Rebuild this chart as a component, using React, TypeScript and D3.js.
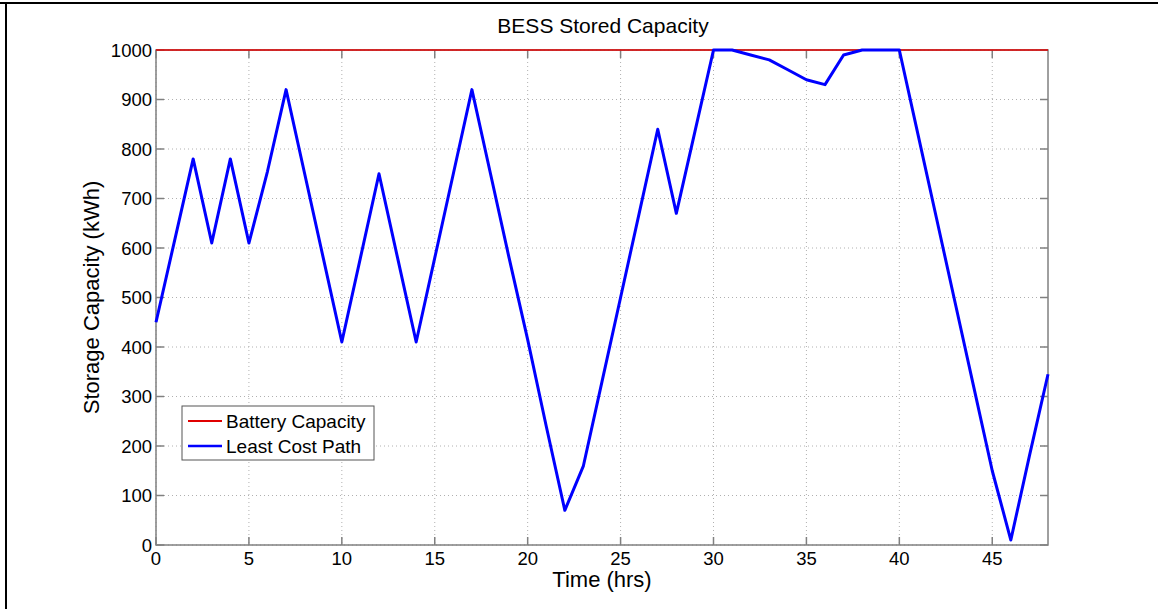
import React from "react";
import * as d3 from "d3";

const hours = d3.range(0, 49);
const leastCostPath = [
  450, 615, 780, 610, 780, 610, 755, 920, 750, 580,
  410, 580, 750, 580, 410, 580, 750, 920, 750, 580,
  415, 240, 70, 160, 330, 500, 670, 840, 670, 835,
  1000, 1000, 990, 980, 960, 940, 930, 990, 1000, 1000,
  1000, 830, 660, 490, 320, 150, 10, 180, 345,
];
const batteryCapacity = hours.map(() => 1000);
const xTicks = [0, 5, 10, 15, 20, 25, 30, 35, 40, 45];
const yTicks = [0, 100, 200, 300, 400, 500, 600, 700, 800, 900, 1000];

const W = 1158;
const H = 609;
const M = { left: 156, right: 1048, top: 50, bottom: 545 };
const FONT = "'Liberation Sans', Arial, sans-serif";

export default function App() {
  const x = d3.scaleLinear().domain([0, 48]).range([M.left, M.right]);
  const y = d3.scaleLinear().domain([0, 1000]).range([M.bottom, M.top]);
  const line = d3
    .line<number>()
    .x((_, i) => x(hours[i]))
    .y((d) => y(d));
  const axisColor = "#808080";
  const tickLen = 8;
  return (
    <svg
      width={W}
      height={H}
      style={{ position: "absolute", left: 0, top: 0, background: "#fff" }}
    >
      <rect x={0} y={0} width={W} height={H} fill="#fff" />
      {/* outer frame */}
      <line x1={0} x2={W} y1={3} y2={3} stroke="#000" strokeWidth={2} />
      <line x1={6} x2={6} y1={2} y2={H} stroke="#000" strokeWidth={2} />

      {/* grid */}
      {xTicks.map((t) => (
        <line
          key={"gx" + t}
          x1={x(t)}
          x2={x(t)}
          y1={M.top}
          y2={M.bottom}
          stroke="#b0b0b0"
          strokeWidth={1}
          strokeDasharray="1,3"
        />
      ))}
      {yTicks.map((t) => (
        <line
          key={"gy" + t}
          x1={M.left}
          x2={M.right}
          y1={y(t)}
          y2={y(t)}
          stroke="#b0b0b0"
          strokeWidth={1}
          strokeDasharray="1,3"
        />
      ))}

      {/* axes box */}
      <rect
        x={M.left}
        y={M.top}
        width={M.right - M.left}
        height={M.bottom - M.top}
        fill="none"
        stroke={axisColor}
        strokeWidth={1.5}
      />
      {xTicks.map((t) => (
        <g key={"tx" + t}>
          <line x1={x(t)} x2={x(t)} y1={M.bottom} y2={M.bottom - tickLen} stroke={axisColor} strokeWidth={1.5} />
          <line x1={x(t)} x2={x(t)} y1={M.top} y2={M.top + tickLen} stroke={axisColor} strokeWidth={1.5} />
          <text
            x={x(t)}
            y={M.bottom + 20}
            textAnchor="middle"
            fontFamily={FONT}
            fontSize={18.5}
            fill="#000"
          >
            {t}
          </text>
        </g>
      ))}
      {yTicks.map((t) => (
        <g key={"ty" + t}>
          <line x1={M.left} x2={M.left + tickLen} y1={y(t)} y2={y(t)} stroke={axisColor} strokeWidth={1.5} />
          <line x1={M.right} x2={M.right - tickLen} y1={y(t)} y2={y(t)} stroke={axisColor} strokeWidth={1.5} />
          <text
            x={M.left - 4}
            y={y(t) + 6.5}
            textAnchor="end"
            fontFamily={FONT}
            fontSize={18.5}
            fill="#000"
          >
            {t}
          </text>
        </g>
      ))}

      {/* series */}
      <path d={line(batteryCapacity) || ""} fill="none" stroke="#e00000" strokeWidth={1.5} />
      <path
        d={line(leastCostPath) || ""}
        fill="none"
        stroke="#0000ff"
        strokeWidth={3}
        strokeLinejoin="round"
      />

      {/* labels */}
      <text x={(M.left + M.right) / 2 + 1} y={33} textAnchor="middle" fontFamily={FONT} fontSize={21} fill="#000">
        BESS Stored Capacity
      </text>
      <text
        x={(M.left + M.right) / 2}
        y={587}
        textAnchor="middle"
        fontFamily={FONT}
        fontSize={22}
        fill="#000"
      >
        Time (hrs)
      </text>
      <text
        transform={`translate(99, ${(M.top + M.bottom) / 2}) rotate(-90)`}
        textAnchor="middle"
        fontFamily={FONT}
        fontSize={22}
        fill="#000"
      >
        Storage Capacity (kWh)
      </text>

      {/* legend */}
      <rect x={182} y={406} width={192} height={54} fill="#fff" stroke="#555" strokeWidth={1} />
      <line x1={188} x2={222} y1={421} y2={421} stroke="#e00000" strokeWidth={2} />
      <text x={226} y={427.5} fontFamily={FONT} fontSize={19} fill="#000">
        Battery Capacity
      </text>
      <line x1={188} x2={222} y1={446} y2={446} stroke="#0000ff" strokeWidth={2.5} />
      <text x={226} y={452.5} fontFamily={FONT} fontSize={19} fill="#000">
        Least Cost Path
      </text>
    </svg>
  );
}
